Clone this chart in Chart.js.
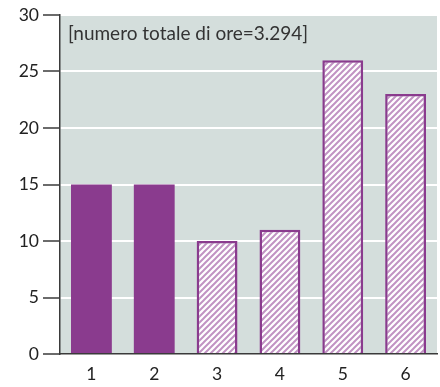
<!DOCTYPE html>
<html>
<head>
<meta charset="utf-8">
<script src="https://cdn.jsdelivr.net/npm/chart.js@4/dist/chart.umd.min.js"></script>
<style>
  html, body { margin: 0; padding: 0; background: #fff; }
  #wrap { width: 440px; height: 387px; }
</style>
</head>
<body>
<div id="wrap"><canvas id="c" width="440" height="387"></canvas></div>
<script>
const categories = ['1', '2', '3', '4', '5', '6'];
const values = [15, 15, 10, 11, 26, 23];
const solidBars = [true, true, false, false, false, false];
const yTicks = [0, 5, 10, 15, 20, 25, 30];
const note = '[numero totale di ore=3.294]';

const PURPLE = '#8a3b8e';
const PANEL = '#d4dedc';
const AXIS = '#3a3a3a';
const FONT = 'Lato, "Open Sans", sans-serif';

// diagonal hatch fill for the open bars
function hatch() {
  const s = 6;
  const cv = document.createElement('canvas');
  cv.width = s; cv.height = s;
  const g = cv.getContext('2d');
  g.fillStyle = '#ffffff';
  g.fillRect(0, 0, s, s);
  g.strokeStyle = '#c193c3';
  g.lineWidth = 2;
  g.beginPath();
  g.moveTo(-1, s + 1); g.lineTo(s + 1, -1);
  g.moveTo(-1, 1); g.lineTo(1, -1);
  g.moveTo(s - 1, s + 1); g.lineTo(s + 1, s - 1);
  g.stroke();
  return g.createPattern(cv, 'repeat');
}
const pattern = hatch();

const panelBg = {
  id: 'panelBg',
  beforeDraw(chart) {
    const { ctx, chartArea: a } = chart;
    ctx.save();
    ctx.fillStyle = PANEL;
    ctx.fillRect(a.left, a.top, a.right - a.left, a.bottom - a.top);
    ctx.restore();
  }
};

const noteLabel = {
  id: 'noteLabel',
  afterDatasetsDraw(chart) {
    const { ctx, chartArea: a } = chart;
    ctx.save();
    ctx.font = '19px ' + FONT;
    ctx.fillStyle = '#333';
    ctx.textBaseline = 'middle';
    ctx.textAlign = 'left';
    ctx.fillText(note, a.left + 8, a.top + 19);
    ctx.restore();
  }
};

new Chart(document.getElementById('c'), {
  type: 'bar',
  data: {
    labels: categories,
    datasets: [{
      data: values,
      backgroundColor: solidBars.map(s => s ? PURPLE : pattern),
      borderColor: PURPLE,
      borderWidth: solidBars.map(s => s ? 0 : 2.5),
      borderSkipped: 'start',
      categoryPercentage: 1,
      barPercentage: 0.65
    }]
  },
  plugins: [panelBg, noteLabel],
  options: {
    responsive: false,
    animation: false,
    layout: { padding: { top: 15, right: 3, left: 0, bottom: 0 } },
    plugins: { legend: { display: false }, tooltip: { enabled: false } },
    scales: {
      x: {
        grid: { display: false, drawTicks: false },
        border: { display: true, color: AXIS, width: 1.5 },
        ticks: { color: '#222', font: { size: 17.5, family: FONT }, padding: 10 },
        afterFit(scale) { scale.height = 33; }
      },
      y: {
        min: 0, max: 30,
        afterBuildTicks(scale) { scale.ticks = yTicks.map(v => ({ value: v })); },
        grid: { color: '#ffffff', lineWidth: 2, tickColor: AXIS, tickLength: 17, tickWidth: 1.5 },
        border: { display: true, color: AXIS, width: 1.5 },
        ticks: { color: '#222', font: { size: 17.5, family: FONT }, padding: 4 },
        afterFit(scale) { scale.width = 60; }
      }
    }
  }
});
</script>
</body>
</html>
